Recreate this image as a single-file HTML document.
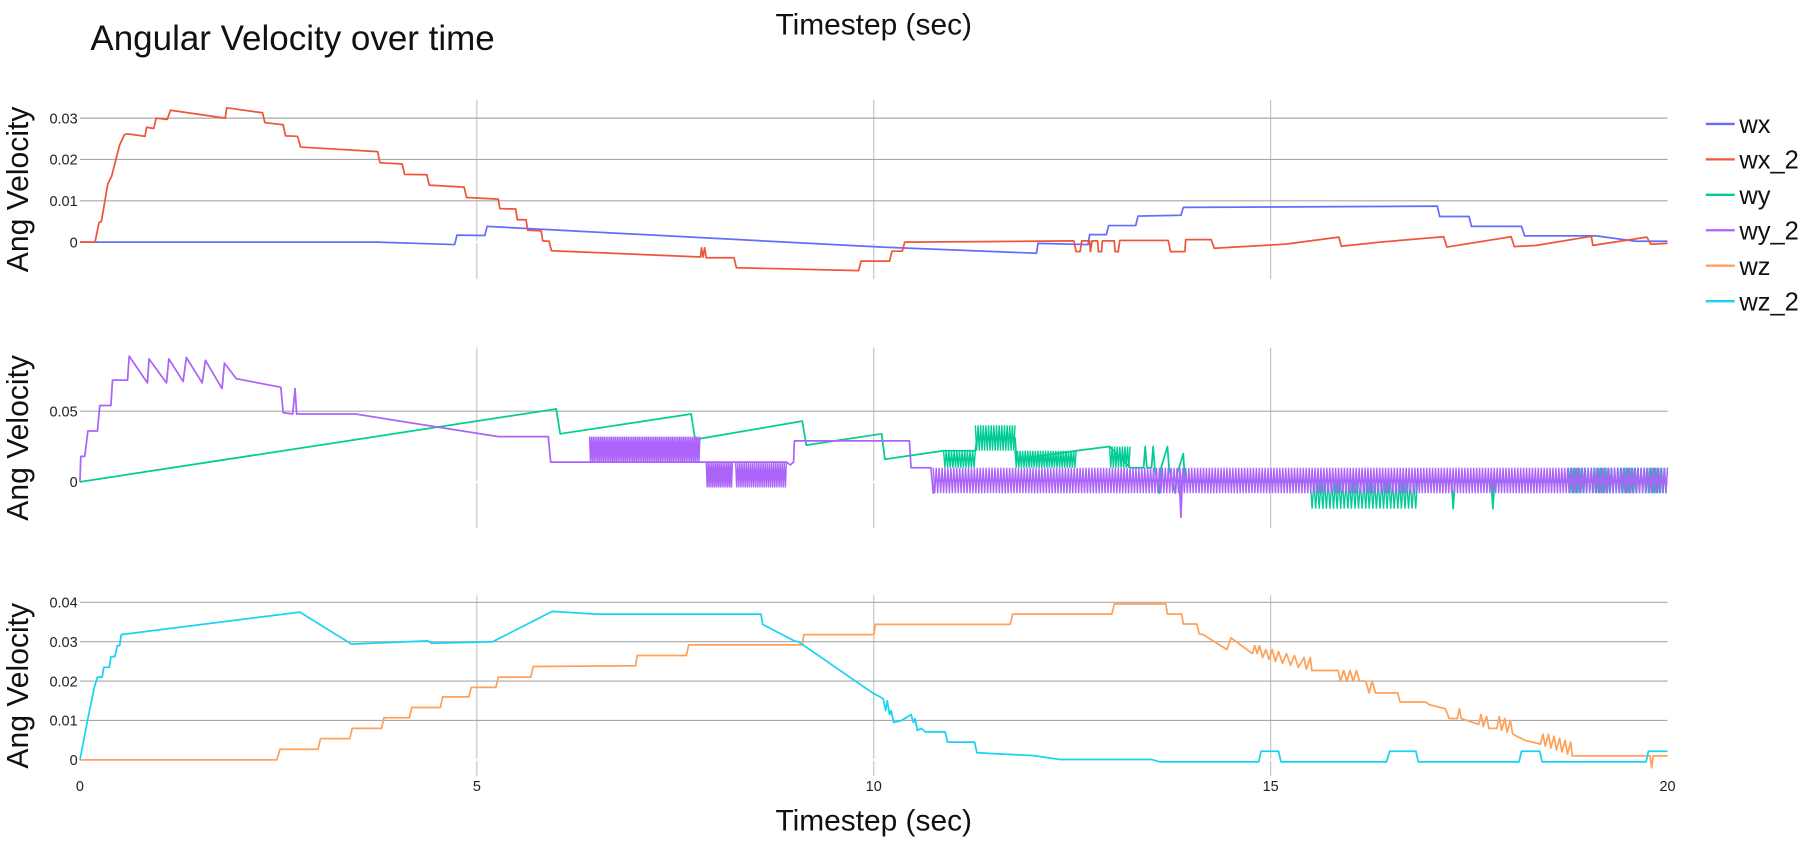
<!DOCTYPE html>
<html><head><meta charset="utf-8"><style>
html,body{margin:0;padding:0;background:#fff;}
svg{display:block;font-family:"Liberation Sans",Arial,sans-serif;}
</style></head><body>
<svg id="chart" width="1817" height="856" viewBox="0 0 1568 739" preserveAspectRatio="none">
<text x="78" y="43" font-size="30.2" fill="#111">Angular Velocity over time</text>
<text x="754" y="30" font-size="25.8" text-anchor="middle" fill="#111">Timestep (sec)</text>
<text x="754" y="717" font-size="25.8" text-anchor="middle" fill="#111">Timestep (sec)</text>
<g id="grid"></g>
<g id="series"></g>
<g id="legend"></g>
</svg>
<script>
const xTicks=[0,5,10,15,20];
const p1Ticks=[0,0.01,0.02,0.03];
const p1Labels=["0","0.01","0.02","0.03"];
const p2Ticks=[0,0.05];
const p2Labels=["0","0.05"];
const p3Ticks=[0,0.01,0.02,0.03,0.04];
const p3Labels=["0","0.01","0.02","0.03","0.04"];
const seriesNames=["wx","wx_2","wy","wy_2","wz","wz_2"];
const seriesColors=["#636efa","#EF553B","#00cc96","#ab63fa","#FFA15A","#19d3f3"];

const wx=[[0,0],[3.75,0],[4.72,-0.0006],[4.75,0.0017],[5.1,0.0016],[5.13,0.0038],[10.08,-0.0012],[12.05,-0.0027],[12.07,-0.0003],[12.7,-0.0006],[12.72,0.0018],[12.93,0.0018],[12.96,0.004],[13.3,0.004],[13.33,0.0063],[13.87,0.0065],[13.9,0.0084],[17.1,0.0087],[17.13,0.0062],[17.5,0.0062],[17.53,0.0038],[18.16,0.0038],[18.2,0.0015],[19.1,0.0015],[19.6,0.0002],[20,0.0002]];
const wx2=[[0,0],[0.19,0],[0.24,0.0047],[0.27,0.005],[0.31,0.0095],[0.35,0.014],[0.4,0.016],[0.44,0.019],[0.5,0.0235],[0.56,0.026],[0.6,0.0262],[0.82,0.0256],[0.84,0.0278],[0.93,0.0275],[0.96,0.03],[1.1,0.0297],[1.14,0.0319],[1.83,0.03],[1.85,0.0325],[2.3,0.0313],[2.33,0.0289],[2.56,0.0284],[2.59,0.0257],[2.74,0.0256],[2.78,0.023],[3.75,0.0219],[3.78,0.0192],[4.06,0.0189],[4.09,0.0164],[4.37,0.0163],[4.4,0.0138],[4.84,0.0133],[4.87,0.0108],[5.27,0.0104],[5.29,0.0081],[5.49,0.008],[5.51,0.0054],[5.62,0.0054],[5.64,0.0029],[5.81,0.0027],[5.83,0.0003],[5.91,0.0002],[5.94,-0.0021],[7.82,-0.0036],[7.83,-0.0014],[7.85,-0.0036],[7.87,-0.0014],[7.89,-0.0038],[8.24,-0.0038],[8.27,-0.0062],[9.81,-0.0069],[9.84,-0.0046],[10.2,-0.0046],[10.23,-0.0022],[10.36,-0.0022],[10.39,0],[11.95,0.0002],[12.52,0.0003],[12.55,-0.0023],[12.6,-0.0023],[12.62,0.0003],[12.72,0.0003],[12.73,-0.0023],[12.75,0.0003],[12.82,0.0003],[12.83,-0.0023],[12.87,-0.0023],[12.88,0.0003],[13.03,0.0003],[13.04,-0.0023],[13.08,-0.0023],[13.1,0.0004],[13.71,0.0004],[13.74,-0.0023],[13.92,-0.0023],[13.93,0.0006],[14.25,0.0006],[14.29,-0.0015],[15.19,-0.0005],[15.86,0.0012],[15.89,-0.001],[16.38,0],[17.18,0.0013],[17.22,-0.0012],[18.03,0.0013],[18.07,-0.0011],[18.35,-0.0008],[19.04,0.0014],[19.06,-0.0008],[19.74,0.0012],[19.79,-0.0005],[20,-0.0003]];
const wy=[[0,0],[6.0,0.0516],[6.05,0.034],[7.7,0.048],[7.75,0.03],[9.1,0.043],[9.15,0.026],[10.1,0.034],[10.14,0.016],[10.88,0.022],[11.28,0.022],[11.3,0.031],[11.78,0.031],[11.8,0.016],[12.55,0.022],[12.97,0.025],[13.23,0.01],[13.4,0.01],[13.42,0.025],[13.44,0.01],[13.5,0.01],[13.52,0.025],[13.54,0.01],[13.6,-0.008],[13.62,0.01],[13.7,0.025],[13.72,0.01],[13.8,-0.008],[13.82,0.005],[13.9,0.02],[13.92,0],[15.5,0],[16.85,0],[17.28,0],[17.3,-0.019],[17.32,0],[17.78,0],[17.8,-0.019],[17.82,0],[18.75,0],[20,0]];
const wy2=[[0,0],[0.01,0.018],[0.06,0.018],[0.1,0.036],[0.22,0.036],[0.25,0.054],[0.39,0.054],[0.41,0.072],[0.6,0.072],[0.62,0.089],[0.85,0.07],[0.87,0.087],[1.09,0.07],[1.12,0.087],[1.3,0.071],[1.34,0.088],[1.54,0.07],[1.58,0.086],[1.79,0.066],[1.82,0.084],[1.97,0.073],[2.53,0.067],[2.56,0.049],[2.68,0.048],[2.71,0.066],[2.73,0.048],[3.47,0.048],[5.27,0.032],[5.9,0.032],[5.93,0.014],[6.42,0.014],[7.81,0.014],[7.89,0.014],[8.9,0.014],[8.95,0.012],[8.99,0.014],[9.0,0.029],[10.45,0.029],[10.47,0.01],[10.72,0.01],[10.75,-0.008],[10.77,0.001],[13.85,0.001],[13.87,-0.025],[13.89,0.005],[13.91,0.001],[20,0.001]];
const wz=[[0,0],[2.48,0],[2.52,0.0027],[3.0,0.0027],[3.03,0.0054],[3.4,0.0054],[3.43,0.008],[3.8,0.008],[3.83,0.0107],[4.15,0.0107],[4.18,0.0133],[4.54,0.0133],[4.57,0.016],[4.9,0.016],[4.93,0.0184],[5.24,0.0184],[5.27,0.021],[5.68,0.021],[5.71,0.0237],[7.0,0.0239],[7.02,0.0265],[7.64,0.0265],[7.67,0.0292],[9.1,0.0292],[9.12,0.0318],[10.0,0.0318],[10.02,0.0344],[11.72,0.0344],[11.75,0.037],[13.0,0.037],[13.03,0.0396],[13.68,0.0396],[13.7,0.037],[13.88,0.037],[13.9,0.0345],[14.07,0.0345],[14.1,0.032],[14.15,0.0318],[14.45,0.028],[14.5,0.031],[14.77,0.027],[14.8,0.029],[14.83,0.027],[14.86,0.029],[14.9,0.026],[14.94,0.028],[14.98,0.0255],[15.02,0.028],[15.06,0.025],[15.1,0.0275],[15.15,0.0245],[15.2,0.027],[15.25,0.024],[15.3,0.0265],[15.35,0.0235],[15.42,0.026],[15.45,0.023],[15.5,0.026],[15.52,0.0227],[15.85,0.0227],[15.88,0.02],[15.92,0.0227],[15.96,0.02],[16.0,0.0227],[16.04,0.02],[16.08,0.0227],[16.12,0.02],[16.2,0.02],[16.24,0.017],[16.28,0.02],[16.32,0.017],[16.43,0.017],[16.6,0.017],[16.63,0.0147],[16.95,0.0147],[17.0,0.014],[17.2,0.013],[17.25,0.0105],[17.35,0.0105],[17.38,0.013],[17.4,0.0105],[17.62,0.009],[17.65,0.0115],[17.68,0.0085],[17.72,0.011],[17.75,0.008],[17.85,0.008],[17.88,0.011],[17.91,0.0075],[17.95,0.0105],[17.98,0.007],[18.02,0.01],[18.05,0.0065],[18.2,0.005],[18.4,0.004],[18.43,0.0065],[18.46,0.0035],[18.5,0.0065],[18.53,0.003],[18.57,0.006],[18.6,0.0025],[18.64,0.0055],[18.67,0.002],[18.71,0.005],[18.74,0.0015],[18.78,0.0045],[18.8,0.001],[19.78,0.001],[19.8,-0.002],[19.82,0.001],[20,0.001]];
const wz2=[[0,0],[0.1,0.0105],[0.18,0.0183],[0.22,0.021],[0.28,0.021],[0.3,0.0235],[0.37,0.0235],[0.39,0.0262],[0.44,0.0262],[0.47,0.029],[0.5,0.029],[0.52,0.0318],[2.77,0.0375],[3.42,0.0294],[4.38,0.0302],[4.43,0.0296],[5.2,0.03],[5.95,0.0377],[6.5,0.037],[8.58,0.037],[8.6,0.0344],[9.0,0.0302],[9.05,0.03],[10.0,0.0168],[10.08,0.016],[10.12,0.0155],[10.15,0.0125],[10.17,0.015],[10.2,0.0115],[10.22,0.0125],[10.25,0.0095],[10.35,0.01],[10.47,0.0115],[10.5,0.0095],[10.52,0.0105],[10.55,0.0075],[10.6,0.008],[10.65,0.0071],[10.9,0.0071],[10.93,0.0045],[11.27,0.0045],[11.3,0.0018],[11.6,0.0015],[12.0,0.0011],[12.35,0.0001],[13.5,0.0001],[13.6,-0.0005],[14.85,-0.0005],[14.88,0.0022],[15.1,0.0022],[15.13,-0.0005],[16.46,-0.0005],[16.5,0.0022],[16.83,0.0022],[16.86,-0.0005],[18.13,-0.0005],[18.16,0.0022],[18.39,0.0022],[18.42,-0.0005],[19.73,-0.0005],[19.76,0.0022],[20,0.0022]];
// dense oscillation segments: [start, end, high, low, cycles]
const wyOsc=[[10.88,11.28,0.022,0.01,12],[11.28,11.78,0.04,0.022,15],[11.78,12.55,0.022,0.01,24],[12.97,13.23,0.025,0.01,8],[15.5,16.85,0,-0.019,30],[18.75,20,0.01,-0.008,30]];
const wy2Osc=[[6.42,7.81,0.032,0.014,60],[7.89,8.22,0.014,-0.004,14],[8.26,8.9,0.014,-0.004,24],[10.75,20,0.01,-0.008,250]];

const NS="http://www.w3.org/2000/svg";
const X0=69,X1=1439;
function xs(t){return X0+(X1-X0)*t/20;}
const panels=[{y0:209,k:3567,top:86,bot:241,ticks:p1Ticks,labels:p1Labels,name:"top"},
{y0:416,k:1220,top:300,bot:456,ticks:p2Ticks,labels:p2Labels,name:"middle"},
{y0:656,k:3400,top:514,bot:670,ticks:p3Ticks,labels:p3Labels,name:"bottom"}];
function ys(p,v){return p.y0-v*p.k;}
const grid=document.getElementById('grid');
const ser=document.getElementById('series');
const leg=document.getElementById('legend');
function mk(tag,attrs,parent){const e=document.createElementNS(NS,tag);for(const a in attrs)e.setAttribute(a,attrs[a]);parent.appendChild(e);return e;}

panels.forEach((p,pi)=>{
  xTicks.forEach(t=>{if(t>0&&t<20){const l=mk('line',{x1:xs(t),x2:xs(t),y1:p.top,y2:p.bot,stroke:'#c4c4c4','stroke-width':1},grid);
    
    }});
  p.ticks.forEach((v,i)=>{
    if(v!==0){const l=mk('line',{x1:X0,x2:X1,y1:ys(p,v),y2:ys(p,v),stroke:'#a8a8a8','stroke-width':1},grid);
    
    }
    else{const z=mk('line',{x1:X0,x2:X1,y1:ys(p,0),y2:ys(p,0),stroke:'#fff','stroke-width':2},grid);
    
    }
    const tx=mk('text',{x:67,y:ys(p,v)+4.5,'font-size':12.5,'text-anchor':'end',fill:'#222'},grid);
    tx.textContent=p.labels[i];
    
    
  });
  const cy=(p.top+p.bot)/2;
  const yt=mk('text',{x:0,y:0,'font-size':26,'text-anchor':'middle',fill:'#111',transform:`translate(24,${cy}) rotate(-90)`},grid);
  yt.textContent='Ang Velocity';
  
  
});
xTicks.forEach(t=>{const tx=mk('text',{x:xs(t),y:683,'font-size':12.5,'text-anchor':'middle',fill:'#222'},grid);
  tx.textContent=String(t);
  
  });

function drawLine(data,p,color,name){
  const d=data.map((pt,i)=>(i?'L':'M')+xs(pt[0]).toFixed(2)+','+ys(p,pt[1]).toFixed(2)).join('');
  const e=mk('path',{d:d,fill:'none',stroke:color,'stroke-width':1.5,'stroke-linejoin':'round'},ser);
  
  
}
function drawOsc(segs,p,color,name){
  segs.forEach(s=>{
    const n=s[4]*2;let d='';
    for(let i=0;i<=n;i++){const t=s[0]+(s[1]-s[0])*i/n;const v=(i%2===0)?s[2]:s[3];d+=(i?'L':'M')+xs(t).toFixed(2)+','+ys(p,v).toFixed(2);}
    const e=mk('path',{d:d,fill:'none',stroke:color,'stroke-width':1.2},ser);
    
    
  });
}
drawLine(wx,panels[0],seriesColors[0],'wx');
drawLine(wx2,panels[0],seriesColors[1],'wx-2');
drawLine(wy,panels[1],seriesColors[2],'wy');
drawOsc(wyOsc,panels[1],seriesColors[2],'wy');
drawLine(wy2,panels[1],seriesColors[3],'wy-2');
drawOsc(wy2Osc,panels[1],seriesColors[3],'wy-2');
drawLine(wz,panels[2],seriesColors[4],'wz');
drawLine(wz2,panels[2],seriesColors[5],'wz-2');

seriesNames.forEach((n,i)=>{
  const y=107+i*30.6;
  const g=mk('g',{},leg);
  
  
  mk('line',{x1:1472,x2:1497,y1:y,y2:y,stroke:seriesColors[i],'stroke-width':2},g);
  const t=mk('text',{x:1501,y:y+8,'font-size':22,fill:'#111'},g);
  t.textContent=n;
});
</script>
</body></html>
